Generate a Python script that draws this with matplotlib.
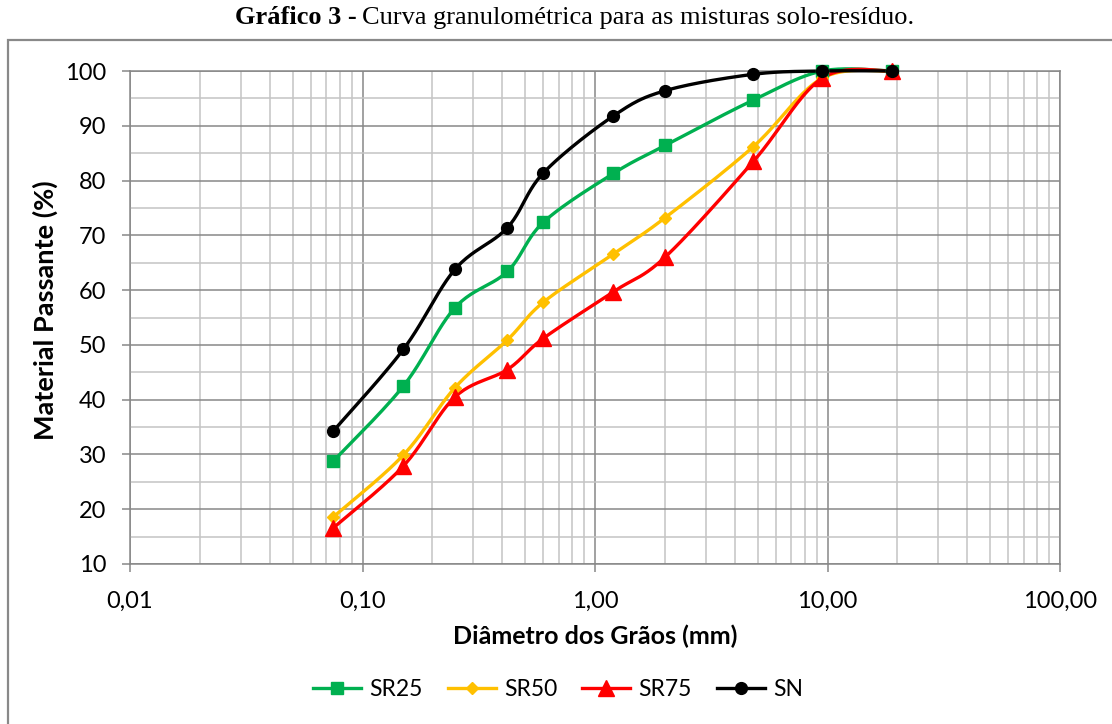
import numpy as np
import matplotlib.pyplot as plt
from matplotlib.ticker import FixedLocator, FuncFormatter
from matplotlib.patches import Rectangle
from matplotlib.lines import Line2D

# peneiras (mm) e porcentagem passante
diam = [0.075, 0.15, 0.25, 0.42, 0.6, 1.2, 2.0, 4.8, 9.5, 19.0]
sr25 = [28.8, 42.5, 56.8, 63.4, 72.4, 81.3, 86.4, 94.7, 100.0, 100.0]
sr50 = [18.6, 29.9, 42.2, 50.9, 57.8, 66.6, 73.2, 86.2, 98.7, 100.0]
sr75 = [16.6, 27.9, 40.5, 45.5, 51.2, 59.7, 66.0, 83.5, 98.7, 100.0]
sn = [34.3, 49.2, 63.8, 71.4, 81.4, 91.8, 96.4, 99.4, 100.0, 100.0]

names = ['SR25', 'SR50', 'SR75', 'SN']
colors = ['#00B050', '#FFC000', '#FF0000', '#000000']
markers = ['s', 'D', '^', 'o']
msizes = [8.5, 6, 11, 8.5]

xticks = [0.01, 0.1, 1, 10, 100]
yticks = list(range(10, 101, 10))


def smooth(x, y, n=24):
    # curva suavizada tipo Excel (Catmull-Rom em log x)
    P = np.column_stack([np.log10(x), y])
    P = np.vstack([P[0], P, P[-1]])
    t = np.linspace(0, 1, n, endpoint=False)
    segs = []
    for i in range(1, len(P) - 2):
        p0, p1, p2, p3 = P[i - 1], P[i], P[i + 1], P[i + 2]
        seg = 0.5 * (2 * p1[None] + np.outer(t, p2 - p0)
                     + np.outer(t ** 2, 2 * p0 - 5 * p1 + 4 * p2 - p3)
                     + np.outer(t ** 3, -p0 + 3 * p1 - 3 * p2 + p3))
        segs.append(seg)
    segs.append(P[-2][None])
    out = np.vstack(segs)
    return 10 ** out[:, 0], out[:, 1]


plt.rcParams['font.family'] = ['Lato', 'DejaVu Sans']

fig = plt.figure(figsize=(11.12, 7.24), dpi=100)
ax = fig.add_axes([130 / 1112, 1 - 564 / 724, 930 / 1112, 493 / 724])

# moldura do gráfico
fig.patches.append(Rectangle((8 / 1112, -0.1), 1.2, 0.1 + 1 - 40 / 724,
                             transform=fig.transFigure, fill=False,
                             edgecolor='#898989', lw=1.6))

series = [sr25, sr50, sr75, sn]
handles = []
for vals, name, c, m, ms in zip(series, names, colors, markers, msizes):
    xs, ys = smooth(diam, vals)
    ax.plot(xs, ys, color=c, lw=2.4, clip_on=False, zorder=3)
    ax.plot(diam, vals, ls='none', marker=m, ms=ms, color=c,
            clip_on=False, zorder=4)
    handles.append(Line2D([], [], color=c, lw=2.4, marker=m, ms=ms))

ax.set_xscale('log')
ax.set_xlim(0.01, 100)
ax.set_ylim(10, 100)
ax.xaxis.set_major_locator(FixedLocator(xticks))
ax.xaxis.set_minor_locator(FixedLocator(
    [k * 10.0 ** e for e in range(-2, 2) for k in range(2, 10)]))
ax.xaxis.set_major_formatter(FuncFormatter(
    lambda v, p: ('%.2f' % v).replace('.', ',')))
ax.xaxis.set_minor_formatter(FuncFormatter(lambda v, p: ''))
ax.yaxis.set_major_locator(FixedLocator(yticks))
ax.yaxis.set_minor_locator(FixedLocator(list(range(15, 100, 10))))

ax.grid(which='major', color='#878787', lw=1.1)
ax.grid(which='minor', color='#c4c4c4', lw=1.1)
ax.set_axisbelow(True)
for s in ax.spines.values():
    s.set_color('#878787')
    s.set_linewidth(1.1)

ax.tick_params(which='major', direction='out', length=6, width=1.1,
               color='#878787', labelsize=17, labelcolor='black')
ax.tick_params(axis='x', which='major', pad=13)
ax.tick_params(axis='y', which='major', pad=11)
ax.tick_params(which='minor', length=0)

fig.text(595 / 1112, 1 - 636 / 724, 'Diâmetro dos Grãos (mm)',
         ha='center', va='center', fontsize=18, fontweight='bold')
fig.text(45 / 1112, 1 - 310 / 724, 'Material Passante (%)',
         ha='center', va='center', rotation=90, fontsize=19.5,
         fontweight='bold')

fig.legend(handles, names, loc='center', ncol=4, frameon=False,
           bbox_to_anchor=(558 / 1112, 1 - 690 / 724), fontsize=16.5,
           handlelength=2.1, columnspacing=1.1, handletextpad=0.35)

fig.text(357 / 1112, 1 - 18 / 724, 'Gráfico 3 -', ha='right',
         va='center', fontsize=19, fontweight='bold',
         family='Liberation Serif')
fig.text(362 / 1112, 1 - 18 / 724,
         'Curva granulométrica para as misturas solo-resíduo.',
         ha='left', va='center', fontsize=19, family='Liberation Serif')

fig.savefig('out.png', dpi=100)
